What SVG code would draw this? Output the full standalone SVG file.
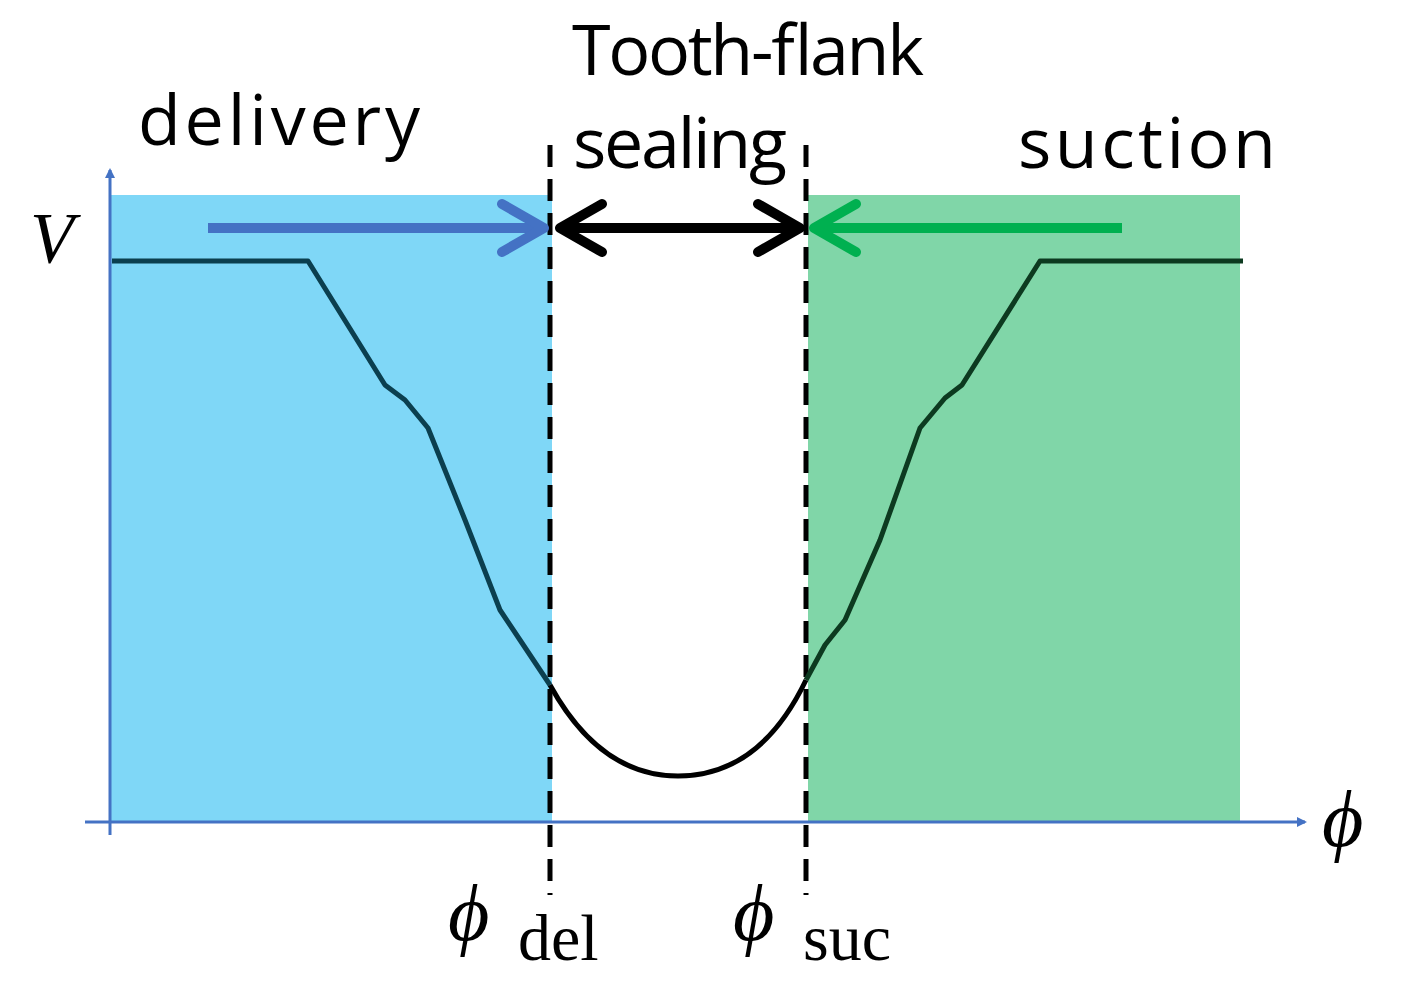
<svg xmlns="http://www.w3.org/2000/svg" width="1407" height="987" viewBox="0 0 1407 987">
<style>
.lbl{font-family:"Open Sans","Liberation Sans",sans-serif;font-size:70px;fill:#000}
.math{font-family:"Liberation Serif","DejaVu Serif",serif;font-style:italic;fill:#000}
.sub{font-family:"Liberation Serif","DejaVu Serif",serif;fill:#000;font-size:66px}
.dash{stroke:#000;stroke-width:5;stroke-dasharray:22,12;fill:none}
</style>
<defs>
<marker id="axh" markerWidth="10" markerHeight="10" refX="8" refY="5" orient="auto" markerUnits="userSpaceOnUse" viewBox="0 0 10 10"><path d="M0,0 L10,5 L0,10 Z" fill="#4472c4"/></marker>
</defs>
<rect width="1407" height="987" fill="#fff"/>
<g id="delivery-region"><rect x="110" y="195" width="442" height="627" fill="#7fd7f7"/></g>
<g id="suction-region"><rect x="808" y="195" width="432" height="627" fill="#80d6a8"/></g>
<g id="connectors">
<line x1="110" y1="835" x2="110" y2="170" stroke="#4472c4" stroke-width="3" marker-end="url(#axh)"/>
<line x1="85" y1="822" x2="1305" y2="822" stroke="#4472c4" stroke-width="3" marker-end="url(#axh)"/>
<line class="dash" x1="550" y1="145" x2="550" y2="895"/>
<line class="dash" x1="806" y1="145" x2="806" y2="895"/>
<polyline points="112,261 308,261 385,385 405,400 428,428 465,520 500,610 520,640 550,685" fill="none" stroke="#0b3f4f" stroke-width="5" stroke-linejoin="round"/>
<path d="M550,685 Q600,776 678,776 Q760,776 806,680" fill="none" stroke="#000" stroke-width="5"/>
<polyline points="806,680 825,645 845,620 880,540 920,428 945,398 962,385 1040,261 1243,261" fill="none" stroke="#0d3a20" stroke-width="5" stroke-linejoin="round"/>
<line x1="208" y1="228" x2="540" y2="228" stroke="#4472c4" stroke-width="10"/>
<polyline points="502,204 544,228 502,252" fill="none" stroke="#4472c4" stroke-width="10" stroke-linecap="round" stroke-linejoin="round"/>
<line x1="1122" y1="228" x2="816" y2="228" stroke="#00b050" stroke-width="10"/>
<polyline points="856,204 814,228 856,252" fill="none" stroke="#00b050" stroke-width="10" stroke-linecap="round" stroke-linejoin="round"/>
<line x1="562" y1="228" x2="798" y2="228" stroke="#000" stroke-width="10"/>
<polyline points="602,204 560,228 602,252" fill="none" stroke="#000" stroke-width="10" stroke-linecap="round" stroke-linejoin="round"/>
<polyline points="758,204 800,228 758,252" fill="none" stroke="#000" stroke-width="10" stroke-linecap="round" stroke-linejoin="round"/>
</g>
<g id="labels">
<text class="lbl" x="138" y="145" textLength="282">delivery</text>
<text class="lbl" x="572" y="75" textLength="352">Tooth-flank</text>
<text class="lbl" x="573" y="168" textLength="214">sealing</text>
<text class="lbl" x="1018" y="168" textLength="258">suction</text>
<text class="math" x="30" y="262" font-size="72">V</text>
<text class="math" x="1322" y="846" font-size="80">ϕ</text>
<text class="math" x="448" y="940" font-size="80">ϕ</text>
<text class="sub" x="518" y="960">del</text>
<text class="math" x="733" y="940" font-size="80">ϕ</text>
<text class="sub" x="803" y="960">suc</text>
</g>
</svg>
